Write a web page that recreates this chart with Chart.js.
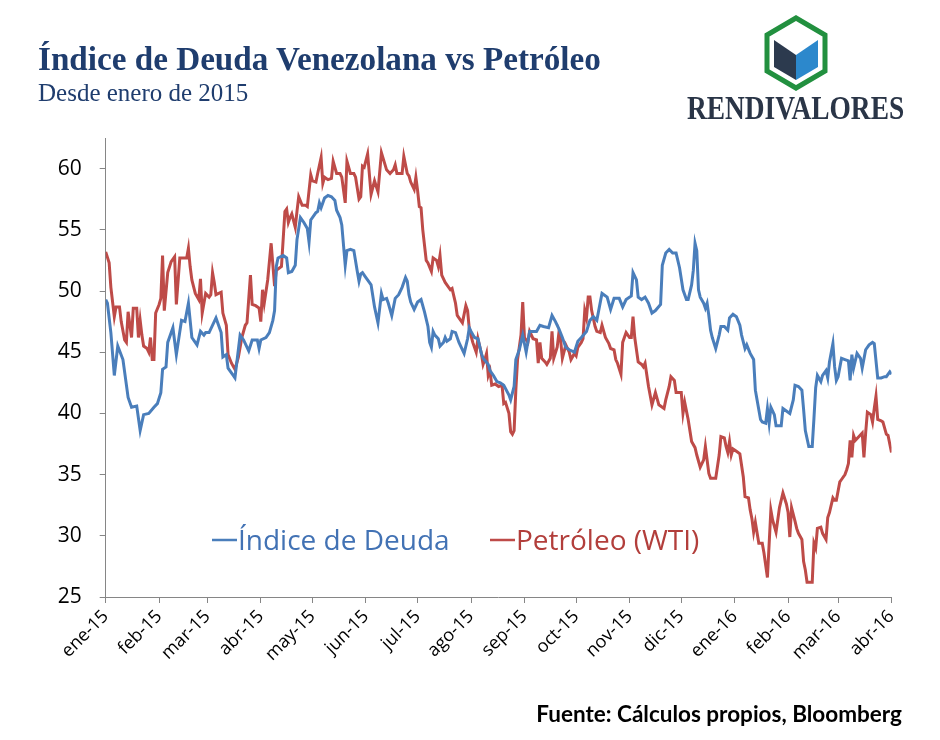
<!DOCTYPE html>
<html lang="es">
<head>
<meta charset="utf-8">
<title>Índice de Deuda Venezolana vs Petróleo</title>
<script src="https://cdn.jsdelivr.net/npm/chart.js@4.4.1/dist/chart.umd.min.js"></script>
<style>
  body { margin: 0; background: #fff; }
  #wrap { position: relative; width: 940px; height: 740px; background: #fff; overflow: hidden; }
  #grafico { position: absolute; left: 0; top: 0; }
  .txt { position: absolute; white-space: nowrap; line-height: 1; }
  #titulo { left: 38px; top: 41px; font: bold 33px "Liberation Serif", "DejaVu Serif", serif; color: #1F3D6E;
            transform: scaleX(1.005); transform-origin: left top; }
  #subtitulo { left: 38px; top: 79px; font: 25px "Liberation Serif", serif; color: #1F3D6E; }
  #marca { left: 687px; top: 90px; font: bold 33px "Liberation Serif", serif; color: #2A3547;
           transform: scaleX(0.83); transform-origin: left top; }
  #fuente { right: 38px; top: 700px; font: bold 22.5px Lato, "Open Sans", sans-serif; color: #000; }
  #logo { position: absolute; left: 764px; top: 15px; }
</style>
</head>
<body>
<div id="wrap">
  <canvas id="grafico" width="940" height="740"></canvas>
  <div class="txt" id="titulo">Índice de Deuda Venezolana vs Petróleo</div>
  <div class="txt" id="subtitulo">Desde enero de 2015</div>
  <svg id="logo" width="64" height="76" viewBox="0 0 64 76">
    <polygon points="32,3 61,20 61,56 32,73 3,56 3,20" fill="#fff" stroke="#22903F" stroke-width="5"/>
    <polygon points="10,25 32,40 32,65 10,52" fill="#2C3A4E"/>
    <polygon points="54,25 32,40 32,65 54,52" fill="#2C88CC"/>
  </svg>
  <div class="txt" id="marca">RENDIVALORES</div>
  <div class="txt" id="fuente">Fuente: Cálculos propios, Bloomberg</div>
</div>
<script>
// días desde el 1 de enero de 2015
const mesesDias = [0, 31, 59, 90, 120, 151, 181, 212, 243, 273, 304, 334, 365, 396, 425, 456];
const mesesEtiquetas = ["ene-15", "feb-15", "mar-15", "abr-15", "may-15", "jun-15", "jul-15", "ago-15",
  "sep-15", "oct-15", "nov-15", "dic-15", "ene-16", "feb-16", "mar-16", "abr-16"];
const yTicks = [25, 30, 35, 40, 45, 50, 55, 60];

// [día, valor]
const deuda = [
  [0,49.3],[1,49.0],[3,46.6],[5,43.1],[7,45.5],[10,44.4],[13,41.3],[15,40.5],[18,40.6],[20,38.6],
  [22,39.9],[25,40.0],[28,40.5],[30,40.8],[32,41.7],[33,43.6],[35,43.8],[36,45.8],[39,47.0],[41,44.8],
  [44,47.6],[46,47.5],[48,49.0],[50,46.2],[53,45.6],[55,46.7],[57,46.4],[58,46.6],[60,46.6],[64,47.8],
  [67,46.6],[68,44.6],[70,44.8],[71,43.7],[74,43.1],[75,42.9],[78,46.4],[80,46.0],[83,45.1],[85,46.0],
  [88,46.0],[89,45.3],[90,46.0],[93,46.2],[95,46.6],[97,47.6],[98,48.4],[99,52.0],[100,52.7],[103,52.9],
  [105,52.7],[106,51.5],[108,51.6],[110,52.1],[111,54.2],[113,56.0],[115,55.6],[117,55.1],[118,54.0],[119,55.8],
  [122,56.4],[123,56.5],[124,57.2],[125,56.8],[127,57.6],[129,57.8],[131,57.7],[133,57.4],[134,56.6],[136,56.0],
  [137,55.4],[139,52.1],[140,53.3],[142,53.4],[144,53.3],[146,51.6],[147,50.8],[148,51.4],[149,51.5],[151,51.1],
  [153,50.7],[154,50.5],[156,48.7],[158,47.4],[160,49.8],[161,49.3],[163,49.4],[164,49.0],[166,48.0],[168,49.4],
  [170,49.7],[172,50.3],[174,51.1],[175,50.8],[176,49.7],[177,49.1],[179,48.5],[181,49.1],[183,49.3],[185,48.3],
  [187,47.1],[188,45.8],[189,45.4],[190,46.7],[191,46.4],[193,46.1],[194,45.5],[196,45.8],[197,46.2],[198,45.9],
  [200,46.1],[201,46.7],[203,46.6],[205,45.8],[206,45.5],[208,44.9],[210,46.1],[211,47.0],[212,46.7],[214,46.2],
  [216,46.1],[218,44.9],[219,44.5],[222,44.0],[223,43.5],[225,43.1],[227,42.6],[229,42.5],[231,42.3],[234,41.5],
  [235,41.1],[237,42.2],[238,44.4],[240,45.2],[242,46.4],[244,45.0],[246,46.7],[248,46.7],[250,46.7],[252,47.2],
  [254,47.1],[257,47.0],[259,48.0],[261,47.5],[263,46.9],[265,46.2],[267,45.4],[269,45.2],[272,45.0],[274,45.9],
  [276,46.2],[279,46.7],[281,47.6],[283,47.9],[285,47.6],[288,49.8],[291,49.5],[293,48.5],[295,49.4],[298,49.4],
  [300,48.7],[302,49.3],[305,49.6],[306,51.5],[308,50.9],[309,49.5],[311,49.3],[313,49.5],[315,49.0],[317,48.2],
  [319,48.4],[322,48.9],[323,52.1],[325,53.1],[327,53.4],[329,53.1],[331,53.1],[333,51.9],[335,50.1],[337,49.3],
  [338,49.3],[340,50.5],[341,51.7],[342,53.9],[343,53.3],[344,50.1],[345,49.5],[347,49.0],[348,48.6],[349,49.0],
  [350,48.0],[351,46.8],[352,46.2],[354,45.3],[356,46.4],[357,47.1],[359,47.1],[361,46.8],[362,47.8],[364,48.1],
  [366,47.9],[368,47.2],[369,46.4],[371,45.3],[372,45.6],[374,44.9],[376,44.4],[377,41.9],[378,41.1],[380,39.5],
  [381,39.3],[383,39.2],[384,40.4],[385,39.2],[386,40.5],[388,39.9],[389,39.0],[392,39.0],[393,40.4],[395,40.2],
  [397,40.0],[399,41.1],[400,42.3],[402,42.2],[404,41.9],[405,40.3],[406,38.6],[408,37.3],[410,37.3],[411,39.6],
  [412,42.1],[413,43.1],[415,42.6],[416,43.1],[418,43.5],[419,42.9],[420,44.2],[422,45.7],[423,43.8],[424,42.7],
  [425,43.0],[427,44.5],[429,44.4],[431,44.3],[432,42.7],[433,44.8],[434,43.7],[436,44.9],[438,44.5],[439,43.7],
  [441,45.2],[443,45.6],[445,45.8],[446,45.7],[448,42.9],[450,42.9],[452,43.0],[453,43.0],[455,43.4],[456,43.2]
];

const wti = [
  [0,53.2],[2,52.3],[3,50.3],[5,47.9],[6,48.7],[8,48.7],[9,47.5],[11,46.0],[12,45.8],[13,48.3],
  [15,46.2],[16,48.6],[18,48.6],[19,46.2],[20,47.6],[21,46.4],[22,45.5],[24,45.3],[25,45.0],[26,46.2],
  [27,44.4],[28,44.4],[29,48.2],[31,48.9],[32,49.4],[33,52.9],[34,48.4],[36,51.5],[38,52.4],[40,52.8],
  [41,48.9],[43,52.7],[45,52.7],[47,52.7],[48,53.5],[49,52.0],[50,50.9],[52,49.8],[54,49.3],[55,51.0],
  [56,48.2],[58,49.8],[60,49.5],[61,49.7],[62,51.5],[63,50.7],[64,49.7],[67,49.9],[68,48.2],[70,47.2],
  [71,44.8],[73,44.1],[75,43.6],[77,44.6],[79,46.2],[81,47.2],[82,47.4],[84,51.3],[85,48.9],[87,48.8],
  [89,48.6],[90,47.5],[91,50.1],[92,49.0],[94,50.9],[96,53.9],[98,50.4],[99,51.7],[101,51.9],[102,52.0],
  [104,56.5],[105,56.7],[106,55.6],[107,56.0],[108,56.3],[110,55.2],[111,56.5],[112,57.7],[114,57.0],[116,57.0],
  [117,56.9],[119,59.5],[120,59.0],[122,58.9],[123,59.6],[125,60.9],[126,58.8],[127,59.3],[129,59.1],[131,59.2],
  [132,60.6],[133,60.1],[134,59.6],[136,59.6],[137,59.3],[139,57.2],[140,60.6],[142,59.6],[144,59.6],[145,59.3],
  [147,57.5],[148,57.7],[149,60.2],[150,60.1],[152,61.2],[154,57.9],[156,59.0],[158,58.1],[160,61.3],[163,59.9],
  [165,59.6],[167,59.9],[168,60.3],[169,59.6],[172,59.6],[173,61.0],[175,59.6],[176,59.4],[177,58.9],[179,58.3],
  [180,59.3],[181,58.2],[182,56.9],[183,56.8],[184,55.0],[186,52.5],[187,52.3],[189,51.6],[190,52.7],[192,52.5],
  [193,52.0],[194,52.9],[195,51.3],[197,50.7],[200,50.1],[201,50.2],[203,49.0],[204,48.0],[206,47.6],[207,47.4],
  [209,48.8],[210,48.4],[211,46.9],[213,45.8],[215,45.0],[216,46.1],[218,44.9],[219,44.0],[220,44.4],[221,44.9],
  [222,43.1],[223,43.5],[224,42.3],[226,42.4],[228,42.2],[230,42.3],[231,40.8],[232,40.9],[234,40.0],[235,38.5],
  [236,38.3],[237,38.6],[238,41.9],[239,44.4],[241,46.4],[242,49.1],[243,46.2],[245,45.8],[246,46.7],[248,46.1],
  [250,46.0],[251,44.1],[252,45.8],[253,44.5],[255,44.2],[256,44.0],[258,44.5],[259,46.7],[260,44.5],[262,45.4],
  [263,46.6],[264,46.0],[265,44.5],[267,45.6],[269,45.0],[270,44.4],[272,44.9],[273,44.7],[274,45.4],[276,45.8],
  [277,46.1],[278,48.4],[279,47.8],[280,49.5],[281,49.5],[282,48.4],[284,47.1],[285,46.7],[287,46.6],[288,47.2],
  [290,46.2],[292,45.7],[293,45.3],[295,45.2],[296,44.4],[297,44.1],[299,43.2],[300,45.8],[302,46.6],[304,46.2],
  [305,46.2],[306,47.9],[307,46.2],[309,44.2],[311,44.0],[312,43.8],[313,44.1],[315,42.2],[317,40.7],[319,41.7],
  [321,40.7],[323,40.5],[324,40.4],[325,41.1],[327,42.2],[328,43.0],[330,42.7],[331,41.7],[333,41.7],[334,41.7],
  [335,40.0],[336,40.9],[338,39.5],[340,37.7],[342,37.2],[343,36.6],[345,35.6],[347,36.2],[348,37.3],[350,35.1],
  [351,34.7],[354,34.7],[356,36.6],[357,38.1],[359,38.0],[360,37.3],[361,36.8],[362,37.7],[363,36.6],[364,37.1],
  [366,36.9],[368,36.7],[370,34.8],[371,33.2],[373,33.1],[374,32.1],[375,31.4],[376,30.3],[377,31.1],[379,29.4],
  [381,29.4],[382,28.6],[384,26.6],[386,32.1],[387,31.3],[389,30.3],[391,32.3],[393,33.5],[395,32.6],[396,31.9],
  [397,29.9],[398,32.3],[400,31.2],[401,30.6],[402,30.2],[404,29.7],[405,27.9],[406,27.2],[407,26.2],[410,26.2],
  [411,29.4],[412,29.0],[413,30.6],[415,30.7],[416,30.2],[418,29.7],[419,31.5],[420,31.9],[422,33.1],[423,32.9],
  [424,32.9],[426,34.4],[427,34.6],[429,35.0],[430,35.4],[431,35.9],[432,37.8],[433,36.4],[434,38.2],[435,37.8],
  [437,38.1],[439,38.4],[440,36.4],[441,38.4],[442,40.1],[444,39.9],[445,39.3],[446,40.4],[447,41.4],[448,39.5],
  [450,39.4],[451,39.3],[453,38.3],[454,38.2],[456,36.8]
];

const AZUL = "#4A7EBB";
const ROJO = "#BE4B48";
const EJE = "#868686";

// leyenda dentro del área del gráfico: trazo corto + texto del color de la serie
const leyenda = {
  id: "leyenda",
  afterDraw(chart, args, opts) {
    const ctx = chart.ctx;
    ctx.save();
    ctx.font = opts.font;
    ctx.textBaseline = "alphabetic";
    chart.data.datasets.forEach((ds, i) => {
      const p = opts.pos[i];
      ctx.strokeStyle = ds.borderColor;
      ctx.lineWidth = 2.5;
      ctx.beginPath();
      ctx.moveTo(p.x, p.y - 10);
      ctx.lineTo(p.x + 25, p.y - 10);
      ctx.stroke();
      ctx.fillStyle = opts.colores[i];
      ctx.fillText(ds.label, p.x + 26, p.y);
    });
    ctx.restore();
  }
};

const serie = (arr) => arr.map(([x, y]) => ({ x, y }));

new Chart(document.getElementById("grafico").getContext("2d"), {
  type: "line",
  data: {
    datasets: [
      { label: "Índice de Deuda", data: serie(deuda), borderColor: AZUL, borderWidth: 3, pointRadius: 0, tension: 0 },
      { label: "Petróleo (WTI)", data: serie(wti), borderColor: ROJO, borderWidth: 3, pointRadius: 0, tension: 0 },
    ],
  },
  options: {
    responsive: false,
    animation: false,
    layout: { padding: { left: 0, right: 48.5, top: 138, bottom: 0 } },
    plugins: {
      legend: { display: false },
      tooltip: { enabled: false },
      leyenda: {
        font: '28px "Open Sans"',
        pos: [{ x: 212, y: 550 }, { x: 490, y: 550 }],
        colores: ["#4272B4", "#B23E3B"],
      },
    },
    scales: {
      x: {
        type: "linear",
        min: 0,
        max: 456,
        afterBuildTicks: (s) => { s.ticks = mesesDias.map((v) => ({ value: v })); },
        afterFit: (s) => { s.height = 143; },
        ticks: {
          autoSkip: false,
          minRotation: 45,
          maxRotation: 45,
          padding: 3,
          color: "#000",
          font: { family: "Open Sans", size: 18 },
          callback: (v) => mesesEtiquetas[mesesDias.indexOf(v)],
        },
        grid: { drawOnChartArea: false, tickLength: 6, color: EJE },
        border: { color: EJE },
      },
      y: {
        min: 25,
        max: 62.5,
        afterBuildTicks: (s) => { s.ticks = yTicks.map((v) => ({ value: v })); },
        afterFit: (s) => { s.width = 105.7; },
        ticks: { padding: 18, color: "#000", font: { family: "Open Sans", size: 21 } },
        grid: { drawOnChartArea: false, tickLength: 6, color: EJE },
        border: { color: EJE },
      },
    },
  },
  plugins: [leyenda],
});
</script>
</body>
</html>
